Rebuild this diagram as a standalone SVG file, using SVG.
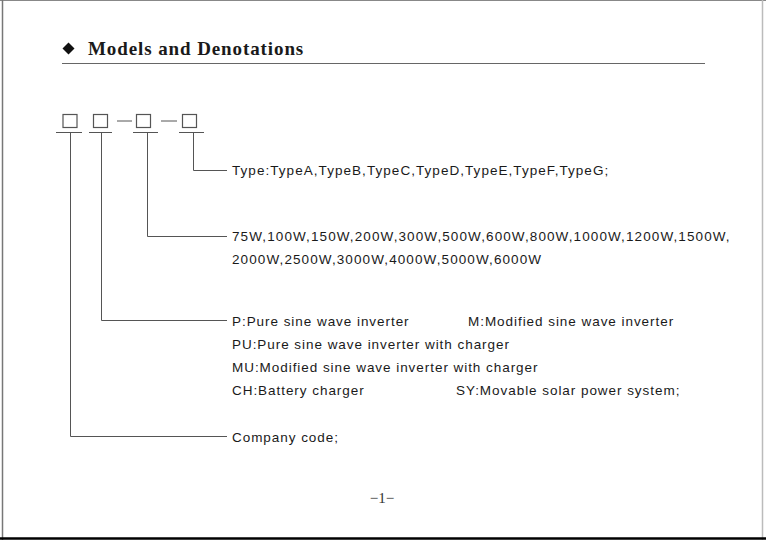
<svg xmlns="http://www.w3.org/2000/svg" width="766" height="540" viewBox="0 0 766 540">
<style>
.t{font-family:"Liberation Sans",Arial,sans-serif;font-size:13.5px;letter-spacing:0.95px;fill:#1a1a1a}
.num{letter-spacing:1.1px}
.box{fill:none;stroke:#555;stroke-width:1.2}
.ln{fill:none;stroke:#555;stroke-width:1}
</style>
<rect x="0" y="0" width="766" height="540" fill="#fff"/>
<g id="frame">
<line x1="0" y1="0.5" x2="766" y2="0.5" stroke="#888" stroke-width="1"/>
<line x1="2.5" y1="0" x2="2.5" y2="540" stroke="#777" stroke-width="1.5"/>
<line x1="762.5" y1="0" x2="762.5" y2="540" stroke="#bbb" stroke-width="1.5"/>
<line x1="0" y1="538.5" x2="766" y2="538.5" stroke="#000" stroke-width="2.5"/>
</g>
<g id="title">
<polygon points="68.5,42.5 74.5,48.5 68.5,54.5 62.5,48.5" fill="#111"/>
<text x="88" y="55" font-family="Liberation Serif,'Times New Roman',serif" font-weight="bold" font-size="19" letter-spacing="0.9" fill="#1a1a1a">Models and Denotations</text>
<line x1="62" y1="63.5" x2="705" y2="63.5" stroke="#666" stroke-width="1.2"/>
</g>
<g id="code-boxes">
<rect class="box" x="63" y="114.5" width="14" height="13"/>
<rect class="box" x="93.5" y="114.5" width="14" height="13"/>
<rect class="box" x="136.5" y="114.5" width="14" height="13"/>
<rect class="box" x="182.5" y="114.5" width="14" height="13"/>
<line class="ln" x1="117" y1="121" x2="132" y2="121" stroke="#999"/>
<line class="ln" x1="161" y1="121" x2="177" y2="121" stroke="#999"/>
<line class="ln" x1="56" y1="132.5" x2="82" y2="132.5"/>
<line class="ln" x1="89" y1="132.5" x2="112" y2="132.5"/>
<line class="ln" x1="133" y1="132.5" x2="158" y2="132.5"/>
<line class="ln" x1="179" y1="132.5" x2="204" y2="132.5"/>
</g>
<g id="connectors">
<polyline class="ln" points="193.5,132.5 193.5,170.5 227,170.5"/>
<polyline class="ln" points="147.5,132.5 147.5,236.5 227,236.5"/>
<polyline class="ln" points="101.5,132.5 101.5,320.5 227,320.5"/>
<polyline class="ln" points="70.5,132.5 70.5,436.5 227,436.5"/>
</g>
<g id="type">
<text class="t" x="232" y="175" style="letter-spacing:1.05px">Type:TypeA,TypeB,TypeC,TypeD,TypeE,TypeF,TypeG;</text>
</g>
<g id="power">
<text class="t num" x="232" y="241">75W,100W,150W,200W,300W,500W,600W,800W,1000W,1200W,1500W,</text>
<text class="t num" x="232" y="264">2000W,2500W,3000W,4000W,5000W,6000W</text>
</g>
<g id="series">
<text class="t" x="232" y="326">P:Pure sine wave inverter</text>
<text class="t" x="468" y="326">M:Modified sine wave inverter</text>
<text class="t" x="232" y="349">PU:Pure sine wave inverter with charger</text>
<text class="t" x="232" y="372">MU:Modified sine wave inverter with charger</text>
<text class="t" x="232" y="395">CH:Battery charger</text>
<text class="t" x="456" y="395">SY:Movable solar power system;</text>
</g>
<g id="company">
<text class="t" x="232" y="442">Company code;</text>
</g>
<g id="page">
<text x="382" y="503" text-anchor="middle" font-family="Liberation Serif,'Times New Roman',serif" font-size="15" fill="#333">−1−</text>
</g>
</svg>
